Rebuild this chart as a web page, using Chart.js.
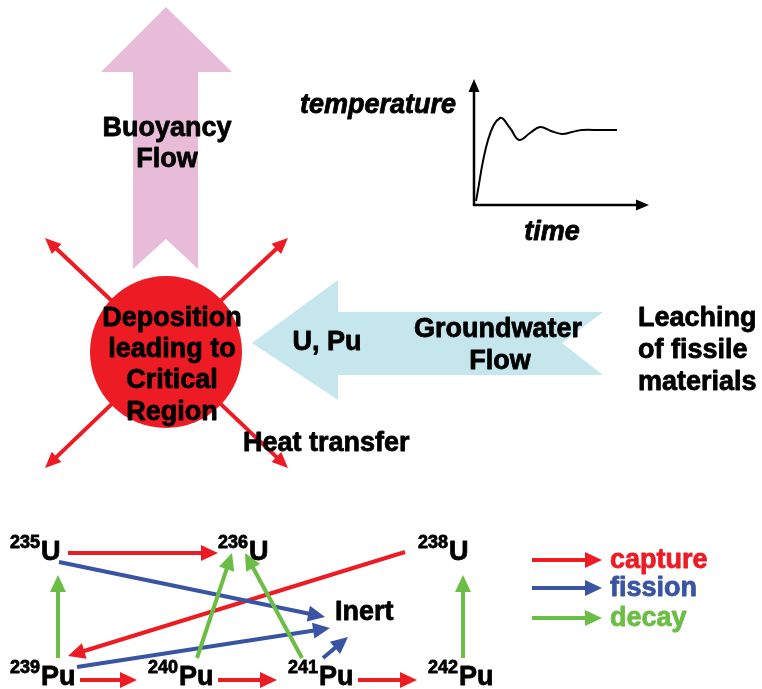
<!DOCTYPE html>
<html>
<head>
<meta charset="utf-8">
<script src="https://cdn.jsdelivr.net/npm/chart.js@4.4.1/dist/chart.umd.min.js"></script>
<style>
  html, body { margin: 0; padding: 0; background: #fff; }
  #wrap { width: 762px; height: 689px; }
</style>
</head>
<body>
<div id="wrap"><canvas id="diagram" width="762" height="689"></canvas></div>
<script>
// temperature response sketch (diagram units)
const curveTime = [476, 488, 500, 510, 519, 530, 540, 551, 562, 572, 582, 600, 617];
const curveTemp = [201, 140, 118, 128, 140, 133, 127, 131, 134, 132, 130, 130, 130];

// big flow arrows (outline points)
const buoyancyArrow = [[166, 7], [232, 72], [198, 72], [198, 269], [166, 239], [133, 269], [133, 72], [101, 72]];
const groundwaterArrow = [[252, 343], [338, 280], [338, 312], [603, 312], [562, 343], [603, 375], [338, 375], [338, 400]];

// critical region
const regionCenter = [166, 352];
const regionRadius = 76;
const heatTips = [[45, 238], [288, 238], [45, 468], [288, 468]];

// isotope labels
const isoMass = ['235', '236', '238', '239', '240', '241', '242'];
const isoSym = ['U', 'U', 'U', 'Pu', 'Pu', 'Pu', 'Pu'];
const isoX = [10, 218, 418, 10, 148, 288, 428];
const isoY = [560, 560, 560, 685, 685, 685, 685];

// transitions: [x1, y1, x2, y2]
const captureArrows = [[68, 553, 218, 553], [405, 552, 68, 656], [80, 680, 137, 680], [218, 680, 277, 680], [358, 680, 417, 680]];
const fissionArrows = [[59, 562, 325, 617], [77, 667, 330, 628], [323, 658, 348, 637]];
const decayArrows = [[58, 658, 58, 575], [197, 658, 232, 553], [302, 658, 245, 553], [463, 658, 463, 575]];

const legendLabels = ['capture', 'fission', 'decay'];
const legendY = [560, 588, 618];

const RED = '#ed1c24', BLUE = '#3a54a4', GREEN = '#6cbd45';
const FONT = '"Liberation Sans", Arial, sans-serif';

function arrow(ctx, x1, y1, x2, y2, color, lw, hl, hw) {
  const dx = x2 - x1, dy = y2 - y1, len = Math.hypot(dx, dy);
  const ux = dx / len, uy = dy / len;
  const bx = x2 - ux * hl, by = y2 - uy * hl;
  ctx.strokeStyle = color; ctx.fillStyle = color; ctx.lineWidth = lw; ctx.lineCap = 'butt';
  ctx.beginPath(); ctx.moveTo(x1, y1); ctx.lineTo(bx + ux, by + uy); ctx.stroke();
  ctx.beginPath();
  ctx.moveTo(x2, y2);
  ctx.lineTo(bx - uy * hw / 2, by + ux * hw / 2);
  ctx.lineTo(bx + uy * hw / 2, by - ux * hw / 2);
  ctx.closePath(); ctx.fill();
}

// heavy text: fill plus a thin stroke, the original lettering is very black
function heavyText(ctx, t, x, y, color) {
  ctx.fillStyle = color; ctx.strokeStyle = color;
  ctx.lineWidth = 0.8; ctx.lineJoin = 'round';
  ctx.fillText(t, x, y);
  ctx.strokeText(t, x, y);
}

const diagramPlugin = {
  id: 'diagram',
  beforeDatasetsDraw(chart) {
    const ctx = chart.ctx, xs = chart.scales.x, ys = chart.scales.y;
    const px = v => xs.getPixelForValue(v), py = v => ys.getPixelForValue(v);
    const poly = (pts, color) => {
      ctx.fillStyle = color; ctx.beginPath();
      pts.forEach((p, i) => i ? ctx.lineTo(px(p[0]), py(p[1])) : ctx.moveTo(px(p[0]), py(p[1])));
      ctx.closePath(); ctx.fill();
    };
    ctx.save();
    poly(buoyancyArrow, '#e8bcd8');
    poly(groundwaterArrow, '#c4e6ec');

    // heat transfer arrows, then the region on top
    heatTips.forEach(t => arrow(ctx, px(regionCenter[0]), py(regionCenter[1]), px(t[0]), py(t[1]), RED, 4, 16, 14));
    ctx.fillStyle = RED;
    ctx.beginPath();
    ctx.arc(px(regionCenter[0]), py(regionCenter[1]), regionRadius, 0, Math.PI * 2);
    ctx.fill();

    // little graph axes
    arrow(ctx, px(474), py(206), px(474), py(79), '#000', 2.5, 13, 11);
    arrow(ctx, px(473), py(205), px(649), py(205), '#000', 2.5, 13, 11);

    // transitions
    captureArrows.forEach(a => arrow(ctx, px(a[0]), py(a[1]), px(a[2]), py(a[3]), RED, 4, 17, 16));
    fissionArrows.forEach(a => arrow(ctx, px(a[0]), py(a[1]), px(a[2]), py(a[3]), BLUE, 4, 17, 16));
    decayArrows.forEach(a => arrow(ctx, px(a[0]), py(a[1]), px(a[2]), py(a[3]), GREEN, 4, 17, 16));

    // legend
    const lc = [RED, BLUE, GREEN];
    legendLabels.forEach((l, i) => {
      arrow(ctx, px(532), py(legendY[i]), px(602), py(legendY[i]), lc[i], 4, 17, 16);
      ctx.font = 'bold 27px ' + FONT;
      ctx.textAlign = 'left'; ctx.textBaseline = 'middle';
      heavyText(ctx, l, px(610), py(legendY[i]) + 1, lc[i]);
    });
    ctx.restore();
  },
  afterDatasetsDraw(chart) {
    const ctx = chart.ctx, xs = chart.scales.x, ys = chart.scales.y;
    const px = v => xs.getPixelForValue(v), py = v => ys.getPixelForValue(v);
    const put = (t, x, y) => heavyText(ctx, t, px(x), py(y), '#000');
    ctx.save();
    ctx.textBaseline = 'middle';
    ctx.textAlign = 'center';
    ctx.font = 'bold 27px ' + FONT;
    put('Buoyancy', 167, 129);
    put('Flow', 167, 160);
    put('Deposition', 172, 319);
    put('leading to', 172, 350);
    put('Critical', 172, 381);
    put('Region', 172, 413);
    put('U, Pu', 327, 343);
    put('Groundwater', 498, 330);
    put('Flow', 500, 362);
    ctx.textAlign = 'left';
    put('Heat transfer', 243, 444);
    put('Leaching', 638, 319);
    put('of fissile', 638, 351);
    put('materials', 638, 383);
    put('Inert', 335, 613);

    ctx.font = 'italic bold 27px ' + FONT;
    ctx.textAlign = 'right';
    put('temperature', 456, 106);
    ctx.textAlign = 'center';
    put('time', 552, 233);

    // isotopes with superscript mass numbers
    ctx.textAlign = 'left'; ctx.textBaseline = 'alphabetic';
    isoMass.forEach((m, i) => {
      ctx.font = 'bold 18px ' + FONT;
      put(m, isoX[i], isoY[i] - 12);
      const w = ctx.measureText(m).width;
      ctx.font = 'bold 27px ' + FONT;
      heavyText(ctx, isoSym[i], px(isoX[i]) + w + 1, py(isoY[i]), '#000');
    });
    ctx.restore();
  }
};

new Chart(document.getElementById('diagram').getContext('2d'), {
  type: 'scatter',
  data: {
    datasets: [{
      label: 'temperature',
      data: curveTime.map((t, i) => ({ x: t, y: curveTemp[i] })),
      showLine: true,
      borderColor: '#000',
      borderWidth: 2,
      pointRadius: 0,
      tension: 0.4,
      fill: false
    }]
  },
  options: {
    responsive: false,
    animation: false,
    layout: { padding: 0 },
    plugins: { legend: { display: false }, tooltip: { enabled: false } },
    scales: {
      x: { type: 'linear', min: 0, max: 762, display: false },
      y: { type: 'linear', min: 0, max: 689, reverse: true, display: false }
    }
  },
  plugins: [diagramPlugin]
});
</script>
</body>
</html>
